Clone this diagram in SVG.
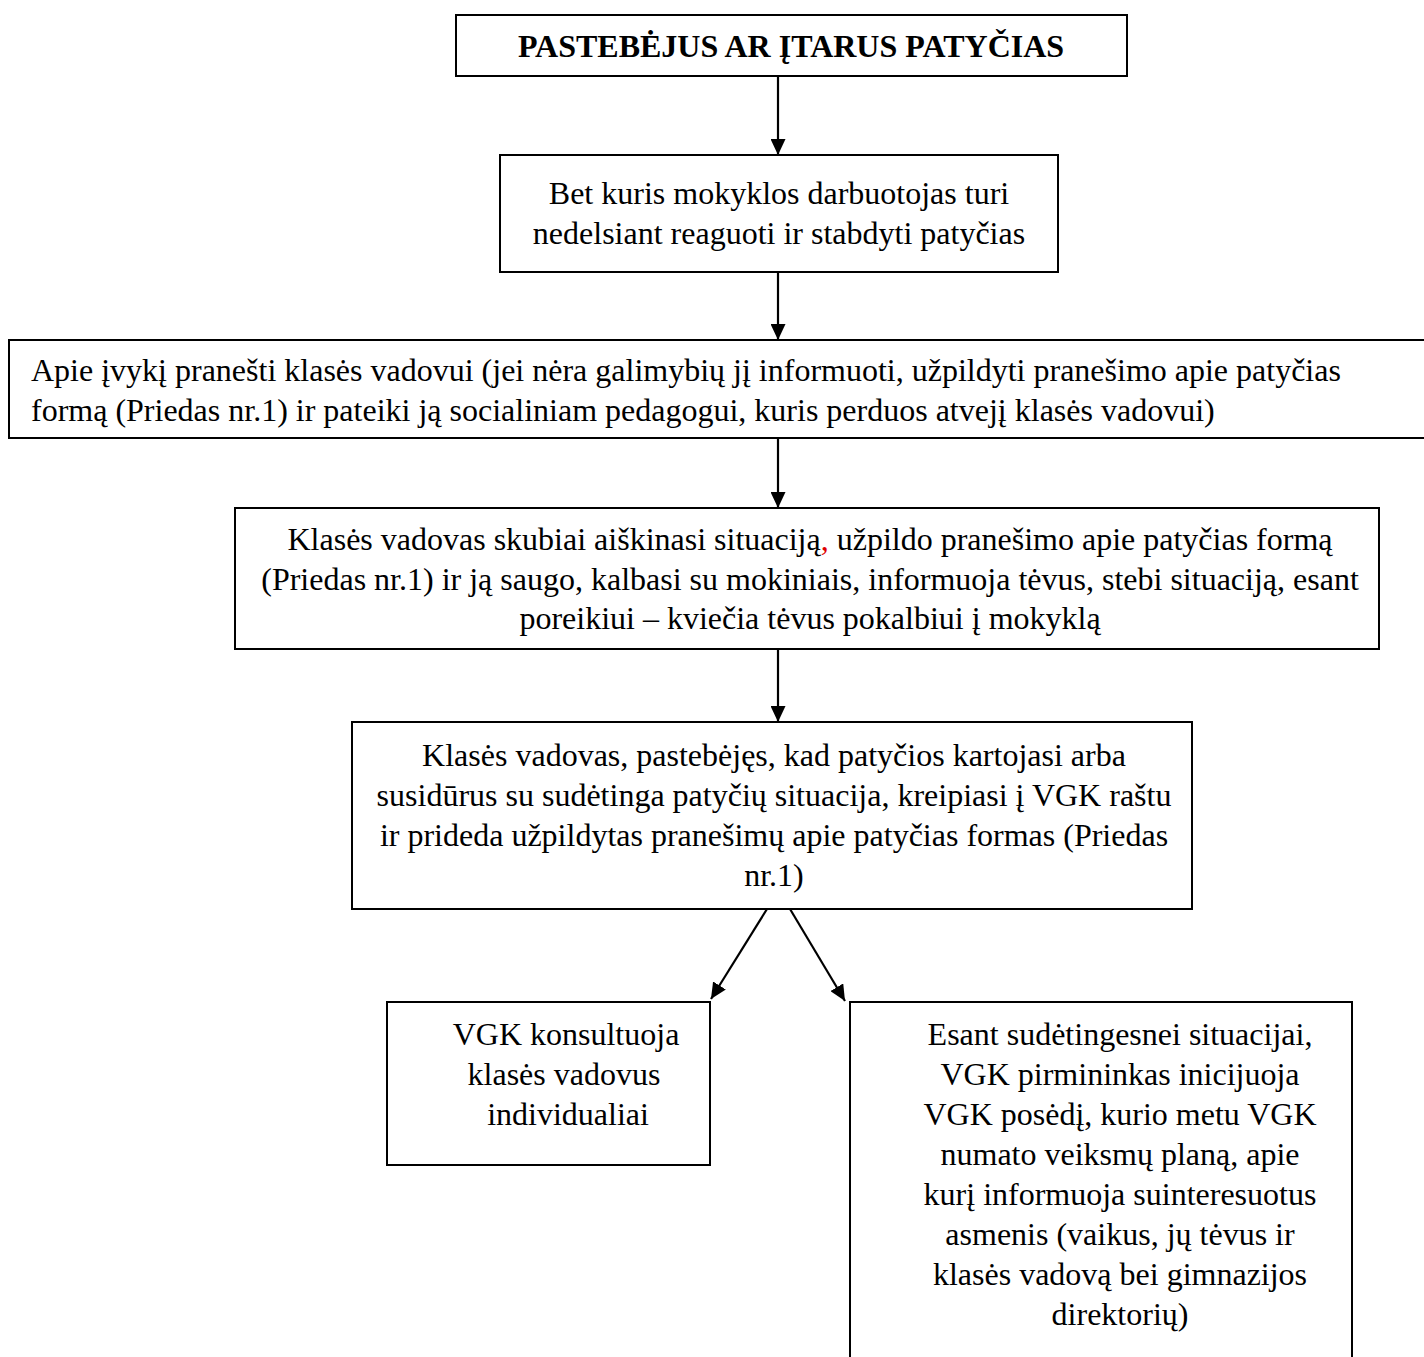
<svg xmlns="http://www.w3.org/2000/svg" width="1424" height="1357" viewBox="0 0 1424 1357">
<style>
.box{fill:#fff;stroke:#000;stroke-width:2}
.t{font-family:"Liberation Serif","Times New Roman",serif;font-size:32px;fill:#000}
.c{text-anchor:middle}
.b{font-weight:bold}
.conn{stroke:#000;stroke-width:2.2;fill:none}
</style>
<defs>
<marker id="ah" viewBox="0 0 16 15" refX="16" refY="7.5" markerWidth="16" markerHeight="15" markerUnits="userSpaceOnUse" orient="auto">
<path d="M0,0 L16,7.5 L0,15 z" fill="#000"/>
</marker>
</defs>
<rect width="1424" height="1357" fill="#fff"/>
<g id="connectors">
<line class="conn" x1="778" y1="76" x2="778" y2="155" marker-end="url(#ah)"/>
<line class="conn" x1="778" y1="272" x2="778" y2="340" marker-end="url(#ah)"/>
<line class="conn" x1="778" y1="438" x2="778" y2="508" marker-end="url(#ah)"/>
<line class="conn" x1="778" y1="649" x2="778" y2="722" marker-end="url(#ah)"/>
<line class="conn" x1="767" y1="909" x2="711" y2="999" marker-end="url(#ah)"/>
<line class="conn" x1="790" y1="909" x2="845" y2="1001" marker-end="url(#ah)"/>
</g>
<g id="n1">
<rect class="box" x="456" y="15" width="671" height="61"/>
<text class="t c b" x="791" y="57">PASTEBĖJUS AR ĮTARUS PATYČIAS</text>
</g>
<g id="n2">
<rect class="box" x="500" y="155" width="558" height="117"/>
<text class="t c" x="779" y="204">Bet kuris mokyklos darbuotojas turi</text>
<text class="t c" x="779" y="244">nedelsiant reaguoti ir stabdyti patyčias</text>
</g>
<g id="n3">
<rect class="box" x="9" y="340" width="1430" height="98"/>
<text class="t" x="31" y="381">Apie įvykį pranešti klasės vadovui (jei nėra galimybių jį informuoti, užpildyti pranešimo apie patyčias</text>
<text class="t" x="31" y="421">formą (Priedas nr.1) ir pateiki ją socialiniam pedagogui, kuris perduos atvejį klasės vadovui)</text>
</g>
<g id="n4">
<rect class="box" x="235" y="508" width="1144" height="141"/>
<text class="t c" x="810" y="550">Klasės vadovas skubiai aiškinasi situaciją<tspan fill="#e00000">,</tspan> užpildo pranešimo apie patyčias formą</text>
<text class="t c" x="810" y="590">(Priedas nr.1) ir ją saugo, kalbasi su mokiniais, informuoja tėvus, stebi situaciją, esant</text>
<text class="t c" x="810" y="629">poreikiui – kviečia tėvus pokalbiui į mokyklą</text>
</g>
<g id="n5">
<rect class="box" x="352" y="722" width="840" height="187"/>
<text class="t c" x="774" y="766">Klasės vadovas, pastebėjęs, kad patyčios kartojasi arba</text>
<text class="t c" x="774" y="806">susidūrus su sudėtinga patyčių situacija, kreipiasi į VGK raštu</text>
<text class="t c" x="774" y="846">ir prideda užpildytas pranešimų apie patyčias formas (Priedas</text>
<text class="t c" x="774" y="886">nr.1)</text>
</g>
<g id="n6">
<rect class="box" x="387" y="1002" width="323" height="163"/>
<text class="t c" x="566" y="1045">VGK konsultuoja</text>
<text class="t c" x="564" y="1085">klasės vadovus</text>
<text class="t c" x="568" y="1125">individualiai</text>
</g>
<g id="n7">
<rect class="box" x="850" y="1002" width="502" height="380"/>
<text class="t c" x="1120" y="1045">Esant sudėtingesnei situacijai,</text>
<text class="t c" x="1120" y="1085">VGK pirmininkas inicijuoja</text>
<text class="t c" x="1120" y="1125">VGK posėdį, kurio metu VGK</text>
<text class="t c" x="1120" y="1165">numato veiksmų planą, apie</text>
<text class="t c" x="1120" y="1205">kurį informuoja suinteresuotus</text>
<text class="t c" x="1120" y="1245">asmenis (vaikus, jų tėvus ir</text>
<text class="t c" x="1120" y="1285">klasės vadovą bei gimnazijos</text>
<text class="t c" x="1120" y="1325">direktorių)</text>
</g>
</svg>
